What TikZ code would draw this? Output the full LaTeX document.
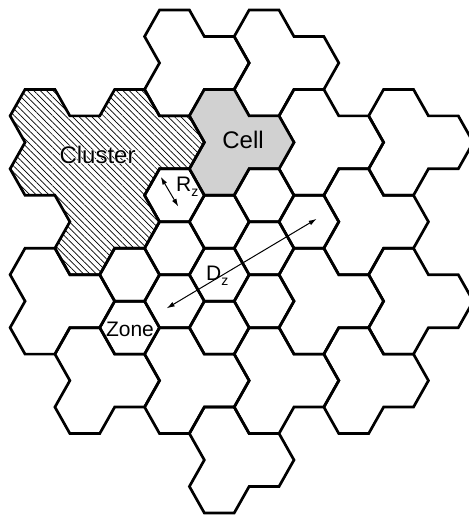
\documentclass[tikz,border=0pt]{standalone}
\usepackage{fontspec}
\setmainfont{Liberation Sans}
\newfontfamily\halofont[FakeBold=6]{Liberation Sans}
\usetikzlibrary{arrows.meta,patterns.meta}

% Hex lattice: a zone centred at (3c, j) has corners (+-2,0), (+-1,+-1).
\tikzset{
  hexline/.style={draw=black, line width=2.7pt, line join=miter},
  cellfill/.style={fill=black!18},
  clusterfill/.style={pattern={Lines[angle=-45,distance=4.5pt,line width=0.7pt]}},
  dimarrow/.style={line width=1pt,
    {Latex[length=8pt,width=5pt]}-{Latex[length=8pt,width=5pt]}},
  biglabel/.style={font=\fontsize{24}{24}\selectfont, inner sep=0pt},
  halolabel/.style={font=\halofont\fontsize{24}{24}\selectfont, inner sep=0pt, text=white},
  smalllabel/.style={font=\fontsize{21}{21}\selectfont, inner sep=0pt},
}

% A cell made of three zones: (x,y), (x+3,y+1), (x,y+2)
\newcommand{\tricell}[3][]{%
  \path[hexline,#1,shift={(#2,#3)}] (-2,0) -- (-1,-1) -- (1,-1) -- (2,0)
    -- (4,0) -- (5,1) -- (4,2) -- (2,2) -- (1,3) -- (-1,3) -- (-2,2)
    -- (-1,1) -- cycle;}
% A single zone
\newcommand{\zonehex}[2]{%
  \path[hexline,shift={(#1,#2)}] (-2,0) -- (-1,-1) -- (1,-1) -- (2,0)
    -- (1,1) -- (-1,1) -- cycle;}
\newcommand{\subz}{\raisebox{-5pt}{\fontsize{14}{14}\selectfont z}}

\begin{document}
\begin{tikzpicture}[x=14.94pt, y=-26.47pt]
\useasboundingbox (-2.677,-1.378) rectangle (28.715,18.078);

% plain cells
\tricell{9}{0}
\tricell{15}{0}
\tricell{18}{3}
\tricell{24}{3}
\tricell{21}{6}
\tricell{0}{9}
\tricell{18}{9}
\tricell{24}{9}
\tricell{3}{12}
\tricell{9}{12}
\tricell{15}{12}
\tricell{21}{12}
\tricell{12}{15}

% the highlighted cell
\tricell[cellfill]{12}{3}

% the cluster of three cells
\path[hexline,clusterfill] (-2,3) -- (-1,2) -- (1,2) -- (2,3) -- (4,3)
  -- (5,2) -- (7,2) -- (8,3) -- (10,3) -- (11,4) -- (10,5) -- (8,5)
  -- (7,6) -- (8,7) -- (7,8) -- (5,8) -- (4,9) -- (2,9) -- (1,8)
  -- (2,7) -- (1,6) -- (-1,6) -- (-2,5) -- (-1,4) -- cycle;

% cells shown divided into their zones
\zonehex{9}{6}  \zonehex{12}{7} \zonehex{9}{8}
\zonehex{15}{6} \zonehex{18}{7} \zonehex{15}{8}
\zonehex{6}{9}  \zonehex{9}{10} \zonehex{6}{11}
\zonehex{12}{9} \zonehex{15}{10} \zonehex{12}{11}

% zone radius and co-zone distance
\coordinate (rzA) at (8.08,5.30);
\coordinate (rzB) at (9.26,6.43);
\draw[dimarrow] (rzA) -- (rzB);
\coordinate (dzA) at (8.48,10.27);
\coordinate (dzB) at (18.52,6.89);
\draw[dimarrow] (dzA) -- (dzB);

% labels
\node[halolabel, anchor=base] (clusterhalo) at (3.85,4.78) {Cluster};
\node[biglabel, anchor=base] (clusterlabel) at (3.85,4.78) {Cluster};
\node[biglabel, anchor=base] (celllabel) at (13.59,4.225) {Cell};
\node[smalllabel, anchor=base] (zonelabel) at (6.02,11.34) {Zone};
\node[smalllabel, anchor=base west] (rzlabel) at (9.10,5.875) {R\subz};
\node[smalllabel, anchor=base west] (dzlabel) at (11.11,9.20) {D\subz};
\end{tikzpicture}
\end{document}
